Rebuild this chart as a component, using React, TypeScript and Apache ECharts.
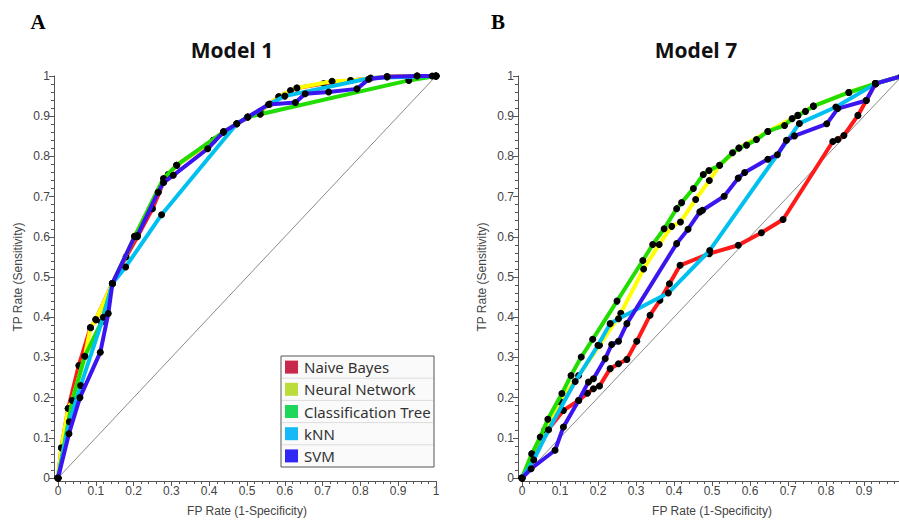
import React, { useEffect, useRef } from "react";
import * as echarts from "echarts";

// ---------- DATA ----------
const seriesNames = ["Naive Bayes", "Neural Network", "Classification Tree", "kNN", "SVM"];
const lineColors = ["#ff1a1a", "#ffff00", "#22dd00", "#00c0f0", "#3c14f0"];
const legendColors = ["#c8284b", "#bcdc3c", "#1ed75a", "#14b9f5", "#3228f5"];
const panelTitles = ["Model 1", "Model 7"];
const panelLetters = ["A", "B"];
const xAxisName = "FP Rate (1-Specificity)";
const yAxisName = "TP Rate (Sensitivity)";

// Model 1 (panel A) ROC points [FP rate, TP rate]
const m1NaiveBayes = [[0,0],[0.009,0.075],[0.027,0.173],[0.055,0.28],[0.086,0.374],[0.1,0.394],[0.144,0.484],[0.18,0.55],[0.21,0.6],[0.25,0.67],[0.279,0.735],[0.292,0.755],[0.314,0.778],[0.411,0.84],[0.473,0.881],[0.535,0.912],[0.584,0.948],[0.632,0.97],[0.703,0.981],[0.774,0.989],[0.87,0.998],[0.95,1],[1,1]];
const m1NeuralNetwork = [[0,0],[0.009,0.075],[0.027,0.173],[0.038,0.193],[0.071,0.303],[0.086,0.374],[0.1,0.394],[0.144,0.484],[0.203,0.601],[0.265,0.711],[0.292,0.755],[0.314,0.778],[0.411,0.84],[0.438,0.861],[0.502,0.898],[0.535,0.912],[0.584,0.948],[0.615,0.964],[0.632,0.97],[0.725,0.987],[0.774,0.989],[0.871,0.998],[0.95,1],[1,1]];
const m1ClassTree = [[0,0],[0.038,0.193],[0.071,0.303],[0.115,0.388],[0.144,0.484],[0.203,0.601],[0.279,0.745],[0.314,0.778],[0.438,0.861],[0.502,0.898],[0.535,0.905],[0.928,0.989],[1,1]];
const m1KNN = [[0,0],[0.03,0.14],[0.06,0.23],[0.12,0.4],[0.144,0.484],[0.179,0.525],[0.274,0.655],[0.473,0.881],[0.56,0.93],[0.6,0.95],[0.827,0.995],[1,1]];
const m1SVM = [[0,0],[0.029,0.11],[0.058,0.2],[0.112,0.313],[0.133,0.409],[0.144,0.484],[0.203,0.601],[0.21,0.603],[0.265,0.711],[0.279,0.735],[0.305,0.753],[0.396,0.819],[0.438,0.861],[0.473,0.881],[0.502,0.898],[0.557,0.929],[0.628,0.934],[0.654,0.956],[0.716,0.96],[0.791,0.968],[0.822,0.992],[0.871,0.998],[0.95,1],[0.99,1],[1,1]];

// Model 7 (panel B)
const m7NaiveBayes = [[0,0],[0.02,0.025],[0.06,0.11],[0.109,0.168],[0.149,0.193],[0.172,0.211],[0.188,0.222],[0.204,0.229],[0.232,0.272],[0.254,0.284],[0.276,0.295],[0.302,0.34],[0.337,0.405],[0.363,0.442],[0.388,0.483],[0.416,0.529],[0.493,0.558],[0.569,0.579],[0.63,0.61],[0.687,0.643],[0.818,0.837],[0.831,0.842],[0.847,0.852],[0.884,0.902],[0.906,0.939],[0.93,0.981],[1,1]];
const m7NeuralNetwork = [[0,0],[0.026,0.06],[0.06,0.12],[0.1,0.19],[0.149,0.255],[0.204,0.33],[0.26,0.41],[0.32,0.52],[0.361,0.581],[0.394,0.626],[0.417,0.637],[0.457,0.693],[0.493,0.74],[0.52,0.778],[0.571,0.821],[0.647,0.862],[0.726,0.902],[0.767,0.925],[0.86,0.959],[0.93,0.981],[1,1]];
const m7ClassTree = [[0,0],[0.026,0.06],[0.048,0.102],[0.068,0.146],[0.105,0.21],[0.129,0.255],[0.156,0.301],[0.186,0.345],[0.25,0.44],[0.318,0.541],[0.344,0.581],[0.374,0.62],[0.407,0.67],[0.42,0.685],[0.451,0.72],[0.477,0.755],[0.492,0.765],[0.52,0.778],[0.554,0.809],[0.571,0.821],[0.591,0.828],[0.617,0.842],[0.647,0.862],[0.691,0.877],[0.711,0.894],[0.726,0.902],[0.746,0.912],[0.767,0.925],[0.86,0.959],[0.93,0.981],[1,1]];
const m7KNN = [[0,0],[0.031,0.045],[0.07,0.12],[0.14,0.24],[0.2,0.33],[0.232,0.384],[0.254,0.396],[0.385,0.46],[0.494,0.566],[0.73,0.882],[0.826,0.923],[0.931,0.981],[1,1]];
const m7SVM = [[0,0],[0.024,0.023],[0.087,0.069],[0.109,0.127],[0.149,0.193],[0.175,0.239],[0.188,0.247],[0.219,0.297],[0.236,0.332],[0.254,0.34],[0.276,0.384],[0.407,0.583],[0.437,0.619],[0.468,0.662],[0.475,0.666],[0.532,0.701],[0.569,0.746],[0.586,0.76],[0.647,0.793],[0.672,0.804],[0.696,0.84],[0.717,0.851],[0.802,0.881],[0.831,0.919],[0.906,0.939],[0.93,0.981],[1,1]];

const diagonal = [[0,0],[1,1]];

const panels = [
  [m1NaiveBayes, m1NeuralNetwork, m1ClassTree, m1KNN, m1SVM],
  [m7NaiveBayes, m7NeuralNetwork, m7ClassTree, m7KNN, m7SVM],
];

// ---------- LAYOUT ----------
const FONT = '"Liberation Sans", Arial, sans-serif';
const grids = [
  { left: 58, top: 76, width: 378, height: 402 },
  { left: 522, top: 76, width: 380, height: 402 },
];
const titleX = [232, 696];
const letterX = [38, 498];

function makeX(i: number) {
  return {
    type: "value", gridIndex: i, min: 0, max: 1, interval: 0.1, offset: 3,
    axisLine: { show: true, onZero: false, lineStyle: { color: "#555", width: 1 } },
    axisTick: { show: true, length: 5, lineStyle: { color: "#555" } },
    minorTick: { show: true, splitNumber: 5, length: 3, lineStyle: { color: "#555" } },
    splitLine: { show: false },
    axisLabel: { color: "#444", fontSize: 12, fontFamily: FONT, margin: 4 },
    name: xAxisName, nameLocation: "middle", nameGap: 24,
    nameTextStyle: { color: "#444", fontSize: 12, fontFamily: FONT },
  };
}
function makeY(i: number) {
  return {
    type: "value", gridIndex: i, min: 0, max: 1, interval: 0.1, offset: 4,
    axisLine: { show: true, onZero: false, lineStyle: { color: "#555", width: 1 } },
    axisTick: { show: true, length: 5, lineStyle: { color: "#555" } },
    minorTick: { show: true, splitNumber: 5, length: 3, lineStyle: { color: "#555" } },
    splitLine: { show: false },
    axisLabel: { color: "#444", fontSize: 12, fontFamily: FONT, margin: 4 },
    name: yAxisName, nameLocation: "middle", nameGap: 30,
    nameTextStyle: { color: "#444", fontSize: 12, fontFamily: FONT },
  };
}

export default function App() {
  const ref = useRef<HTMLDivElement>(null);
  useEffect(() => {
    if (!ref.current) return;
    const chart = echarts.init(ref.current, null, { renderer: "svg" });
    const series: any[] = [];
    panels.forEach((p, gi) => {
      series.push({
        type: "line", xAxisIndex: gi, yAxisIndex: gi, data: diagonal,
        symbol: "none", lineStyle: { color: "#8a8a8a", width: 1 }, z: 1, silent: true,
      });
      p.forEach((d, si) => {
        series.push({
          name: seriesNames[si], type: "line", xAxisIndex: gi, yAxisIndex: gi, data: d,
          symbol: "circle", symbolSize: 7, showSymbol: true,
          itemStyle: { color: "#000" },
          lineStyle: { color: lineColors[si], width: 4 },
          z: 2 + si, silent: true, clip: false,
        });
      });
    });

    const graphic: any[] = [];
    panelTitles.forEach((t, i) => {
      graphic.push({
        type: "text", x: titleX[i], y: 50,
        style: { text: t, font: 'bold 21px "Open Sans", "Noto Sans", sans-serif', fill: "#111",
          textAlign: "center", textVerticalAlign: "middle", align: "center", verticalAlign: "middle" },
      });
      graphic.push({
        type: "text", x: letterX[i], y: 22,
        style: { text: panelLetters[i], font: 'bold 21px "Liberation Serif", "Times New Roman", serif', fill: "#000",
          textAlign: "center", textVerticalAlign: "middle", align: "center", verticalAlign: "middle" },
      });
    });
    // legend (panel A)
    const lx = 281, ly = 356, lw = 153, rowH = 22.2;
    const lh = rowH * seriesNames.length;
    graphic.push({ type: "rect", shape: { x: lx, y: ly, width: lw, height: lh }, style: { fill: "#fafafa", stroke: "#555", lineWidth: 1 }, z: 100 });
    seriesNames.forEach((n, i) => {
      const cy = ly + rowH * i + rowH / 2;
      if (i > 0) {
        graphic.push({ type: "line", shape: { x1: lx + 1, y1: ly + rowH * i, x2: lx + lw - 1, y2: ly + rowH * i }, style: { stroke: "#dcdcdc", lineWidth: 1 }, z: 101 });
      }
      graphic.push({ type: "rect", shape: { x: lx + 4, y: cy - 6.5, width: 13, height: 13 }, style: { fill: legendColors[i] }, z: 102 });
      graphic.push({
        type: "text", x: lx + 23, y: cy, z: 102,
        style: { text: n, font: '15px "Noto Sans", "Open Sans", sans-serif', fill: "#333",
          textAlign: "left", textVerticalAlign: "middle", align: "left", verticalAlign: "middle" },
      });
    });

    chart.setOption({
      animation: false,
      backgroundColor: "#fff",
      grid: grids.map((g) => ({ ...g, containLabel: false, outerBoundsMode: "none" })),
      xAxis: [makeX(0), makeX(1)],
      yAxis: [makeY(0), makeY(1)],
      series,
      graphic,
    });
    return () => chart.dispose();
  }, []);
  return <div ref={ref} style={{ position: "fixed", left: 0, top: 0, width: 899, height: 521 }} />;
}
